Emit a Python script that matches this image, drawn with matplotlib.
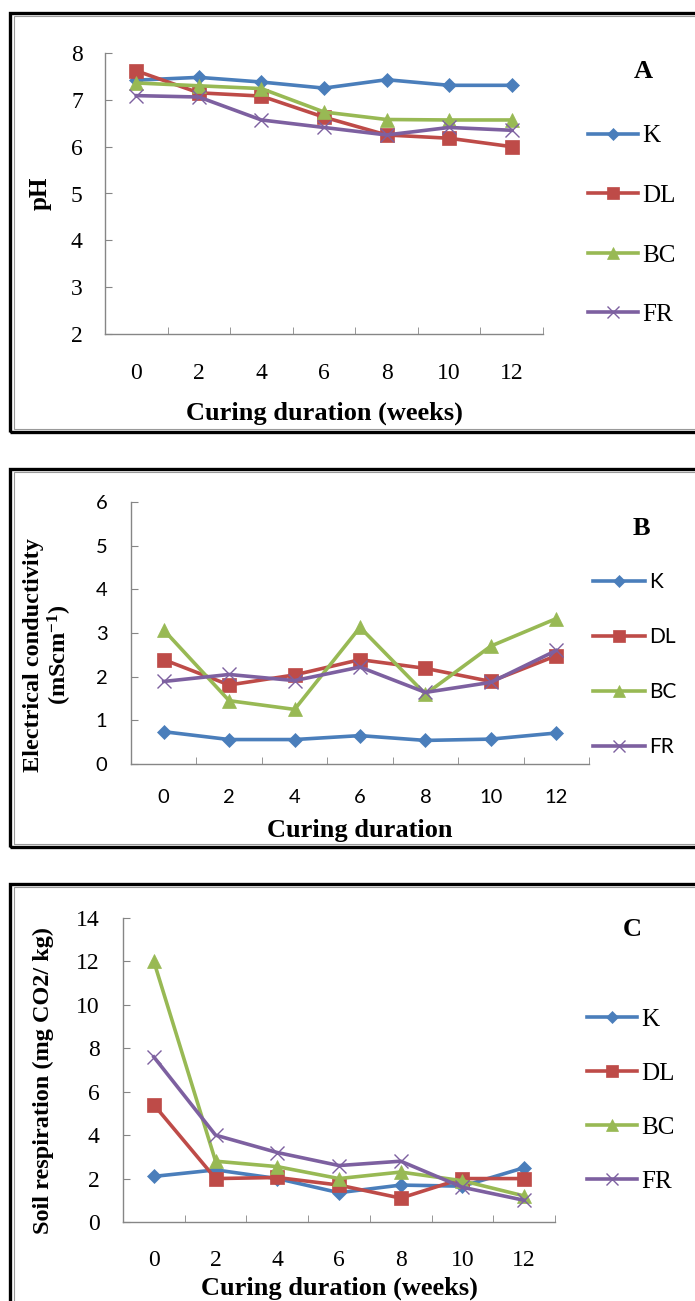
import matplotlib
matplotlib.use("Agg")
import matplotlib.pyplot as plt
from matplotlib.patches import Rectangle
import numpy as np

# curing duration (weeks) and the four treatments
weeks = ["0", "2", "4", "6", "8", "10", "12"]
treatments = ["K", "DL", "BC", "FR"]

ph_k = [7.42, 7.48, 7.38, 7.25, 7.43, 7.31, 7.31]
ph_dl = [7.62, 7.15, 7.08, 6.63, 6.25, 6.18, 6.0]
ph_bc = [7.36, 7.30, 7.24, 6.74, 6.58, 6.57, 6.57]
ph_fr = [7.09, 7.06, 6.57, 6.41, 6.25, 6.41, 6.35]

ec_k = [0.74, 0.56, 0.56, 0.65, 0.54, 0.57, 0.71]
ec_dl = [2.39, 1.81, 2.04, 2.39, 2.19, 1.89, 2.48]
ec_bc = [3.07, 1.45, 1.25, 3.13, 1.60, 2.70, 3.33]
ec_fr = [1.89, 2.05, 1.91, 2.22, 1.64, 1.87, 2.60]

resp_k = [2.1, 2.4, 2.0, 1.35, 1.7, 1.65, 2.5]
resp_dl = [5.4, 2.0, 2.05, 1.7, 1.1, 2.0, 2.0]
resp_bc = [12.0, 2.8, 2.55, 2.0, 2.3, 1.9, 1.2]
resp_fr = [7.6, 4.0, 3.2, 2.6, 2.8, 1.6, 1.0]

colors = ["#4A7EBB", "#BE4B48", "#98B954", "#7D60A0"]
markers = ["D", "s", "^", "x"]
msizes = [7, 10, 10, 10]

W, H = 695, 1301
SERIF = "Liberation Serif"
SANS = "Lato"

plt.rcParams["mathtext.fontset"] = "custom"
plt.rcParams["mathtext.rm"] = SERIF
plt.rcParams["mathtext.bf"] = SERIF + ":bold"
plt.rcParams["mathtext.default"] = "bf"

fig = plt.figure(figsize=(W / 100, H / 100), dpi=100)


def add_frame(top, bottom):
    # black picture border, right edge runs off the image
    fig.patches.append(Rectangle((10 / W, 1 - bottom / H), (760 - 10) / W, (bottom - top) / H,
                                 transform=fig.transFigure, fill=False, lw=2.4, ec="black"))
    fig.patches.append(Rectangle((14 / W, 1 - (bottom - 3) / H), (760 - 14) / W, (bottom - top - 6) / H,
                                 transform=fig.transFigure, fill=False, lw=0.8, ec="#9a9a9a"))


def make_axes(left, top, right, bottom):
    return fig.add_axes([left / W, 1 - bottom / H, (right - left) / W, (bottom - top) / H])


def draw_panel(ax, series, ylim, yticks, tickfont, tsize, xpad, ypad,
               ylabel, ylab_xy, ylab_size, xlabel, xlab_y, letter, letter_xy,
               leg_xy, legfont, legsize, legspacing, handlelen):
    for vals, name, c, m, ms in zip(series, treatments, colors, markers, msizes):
        ax.plot(weeks, vals, color=c, lw=2.6, marker=m, ms=ms, mfc=c, mec=c,
                mew=1.0 if m == "x" else 0.5, label=name, clip_on=False)
    ax.set_xlim(-0.5, 6.5)
    ax.set_ylim(*ylim)
    ax.set_yticks(yticks)
    ax.set_xticks(np.arange(-0.5, 7, 1), minor=True)
    for s in ["top", "right"]:
        ax.spines[s].set_visible(False)
    for s in ["left", "bottom"]:
        ax.spines[s].set_color("#868686")
        ax.spines[s].set_linewidth(1.0)
    ax.tick_params(axis="x", which="major", length=0, pad=xpad)
    ax.tick_params(axis="x", which="minor", direction="in", length=5, color="#868686")
    ax.tick_params(axis="y", direction="in", length=5, color="#868686", pad=ypad)
    for lab in ax.get_xticklabels() + ax.get_yticklabels():
        lab.set_fontfamily(tickfont)
        lab.set_fontsize(tsize)
    ax.set_ylabel(ylabel, fontfamily=SERIF, fontweight="bold", fontsize=ylab_size,
                  linespacing=1.1, va="center", ha="center")
    ax.yaxis.set_label_coords(*ylab_xy)
    ax.set_xlabel(xlabel, fontfamily=SERIF, fontweight="bold", fontsize=19, va="center")
    ax.xaxis.set_label_coords(0.5, xlab_y)
    fig.text(letter_xy[0] / W, 1 - letter_xy[1] / H, letter, fontfamily=SERIF,
             fontweight="bold", fontsize=19, ha="center", va="center")
    ax.legend(loc="upper left", bbox_to_anchor=(leg_xy[0] / W, 1 - leg_xy[1] / H),
              bbox_transform=fig.transFigure, frameon=False, borderpad=0,
              borderaxespad=0, handlelength=handlelen, handletextpad=0.18,
              labelspacing=legspacing, markerscale=0.85,
              prop={"family": legfont, "size": legsize})


# panel A - pH
add_frame(13, 432)
axA = make_axes(105, 53, 543, 334)
draw_panel(axA, [ph_k, ph_dl, ph_bc, ph_fr], (2, 8), range(2, 9), SERIF, 17, 21, 16,
           "pH", (-0.148, 0.5), 18, "Curing duration (weeks)", -0.281, "A", (643, 72),
           (588, 125), SERIF, 18, 1.48, 2.0)

# panel B - electrical conductivity
add_frame(469, 847)
axB = make_axes(131, 502, 589, 764)
draw_panel(axB, [ec_k, ec_dl, ec_bc, ec_fr], (0, 6), range(0, 7), SANS, 14.5, 18, 17,
           "Electrical conductivity\n(mScm$^{-1}$)", (-0.18, 0.416), 17.5,
           "Curing duration", -0.252, "B", (641, 529),
           (593, 572), SANS, 15, 1.68, 2.5)

# panel C - soil respiration
add_frame(884, 1340)
axC = make_axes(123, 918, 555, 1222)
draw_panel(axC, [resp_k, resp_dl, resp_bc, resp_fr], (0, 14), range(0, 15, 2), SERIF, 17, 20, 17,
           "Soil respiration (mg CO2/ kg)", (-0.185, 0.467), 17.5,
           "Curing duration (weeks)", -0.217, "C", (632, 930),
           (587, 1008), SERIF, 18, 1.26, 2.0)

fig.savefig("out.png", dpi=100)
